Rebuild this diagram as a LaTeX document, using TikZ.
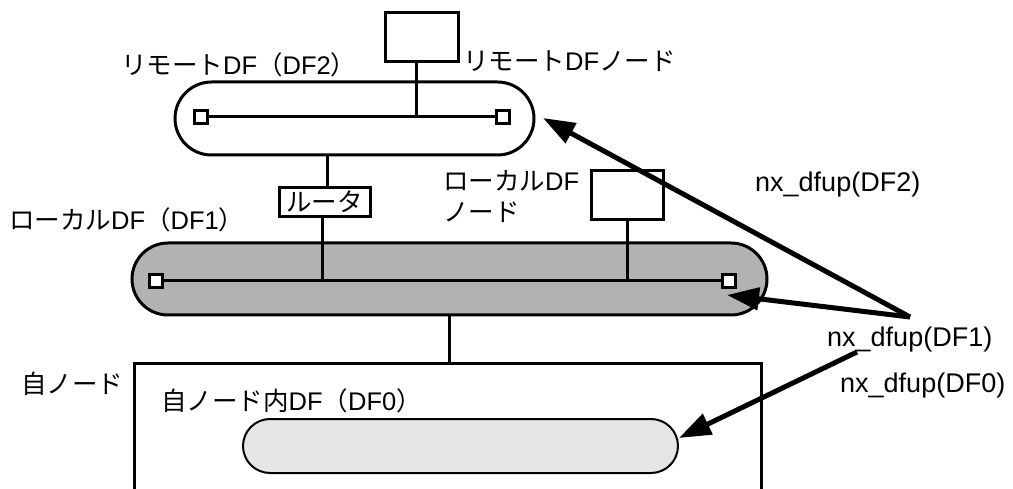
\documentclass[tikz,border=0pt]{standalone}
\usepackage{fontspec}
\setmainfont{Liberation Sans}
\newfontfamily\jp{Noto Sans CJK JP}
\usetikzlibrary{arrows.meta}
\newcommand\lt[1]{{\rmfamily #1}}
\begin{document}
\begin{tikzpicture}[x=1pt,y=-1pt,
  line/.style={line width=3pt},
  boxnode/.style={draw,line width=3pt,fill=white,minimum width=73pt,minimum height=49pt,inner sep=0pt},
  sq/.style={draw,line width=3pt,fill=white,minimum size=13pt,inner sep=0pt},
  capsule/.style={draw,line width=3pt,inner sep=0pt},
  lab/.style={anchor=west,inner sep=0pt,font=\jp\fontsize{25.5}{30}\selectfont},
  nx/.style={anchor=west,inner sep=0pt,font=\fontsize{27}{32}\selectfont},
  arr/.style={line width=5pt,-{Triangle[length=32pt,width=22pt]}}]
\useasboundingbox (0,0) rectangle (1013,489);

% remote DF (DF2)
\node[capsule,minimum width=359pt,minimum height=73pt,rounded corners=36.5pt] (df2) at (354.5,118.5) {};
\node[boxnode] (rem) at (422,37.5) {};
\node[sq] (sq2l) at (201,117) {};
\node[sq] (sq2r) at (503,117) {};
\draw[line] (sq2l.east) -- (sq2r.west);
\coordinate (rembus) at (416,117);
\draw[line] (rem.south -| rembus) -- (rembus);

% router
\node[draw,line width=3pt,fill=white,minimum width=91pt,minimum height=29pt,inner sep=0pt,font=\jp\fontsize{25.5}{30}\selectfont] (rt) at (324.5,202) {ルータ};
\draw[line] (df2.south -| 327,0) -- (rt.north -| 327,0);

% local DF (DF1)
\node[capsule,fill=black!30,minimum width=635pt,minimum height=72pt,rounded corners=36pt] (df1) at (449.5,279) {};
\node[sq] (sq1l) at (156,281) {};
\node[sq] (sq1r) at (729,281) {};
\draw[line] (sq1l.east) -- (sq1r.west);
\coordinate (rtbus) at (322,281);
\draw[line] (rt.south -| rtbus) -- (rtbus);
\node[boxnode,minimum width=72pt] (loc) at (627.5,195.5) {};
\coordinate (locbus) at (627,281);
\draw[line] (loc.south -| locbus) -- (locbus);

% own node
\coordinate (selftop) at (449,363);
\draw[line] (134,489) -- (134,363) -- (761,363) -- (761,489);
\draw[line] (df1.south -| selftop) -- (selftop);
\node[draw,line width=2pt,fill=black!10,minimum width=435pt,minimum height=54pt,rounded corners=27pt,inner sep=0pt] (df0) at (460.5,446) {};

% labels
\node[lab] (t1) at (463,61) {リモート\lt{DF}ノード};
\node[lab] (t2) at (121,65) {リモート\lt{DF}（\lt{DF2}）};
\node[lab] (t3) at (9,220) {ローカル\lt{DF}（\lt{DF1}）};
\node[lab,anchor=north west,align=left,font=\jp\fontsize{25.5}{31}\selectfont] (t4) at (443,170) {ローカル\lt{DF}\\ノード};
\node[lab] (t5) at (21,384) {自ノード};
\node[lab] (t6) at (161,401) {自ノード内\lt{DF}（\lt{DF0}）};
\node[nx] (n2) at (755,185) {nx\_dfup(DF2)};
\node[nx] (n1) at (827,340) {nx\_dfup(DF1)};
\node[nx] (n0) at (840,386) {nx\_dfup(DF0)};

% arrows
\coordinate (apex) at (910,317);
\coordinate (d0start) at (857,352);
\coordinate (tip2) at (543,118);
\coordinate (tip1) at (727,295);
\coordinate (tip0) at (679,438);
\draw[arr] (apex) -- (tip2);
\draw[arr] (apex) -- (tip1);
\draw[arr] (d0start) -- (tip0);
\end{tikzpicture}
\end{document}
